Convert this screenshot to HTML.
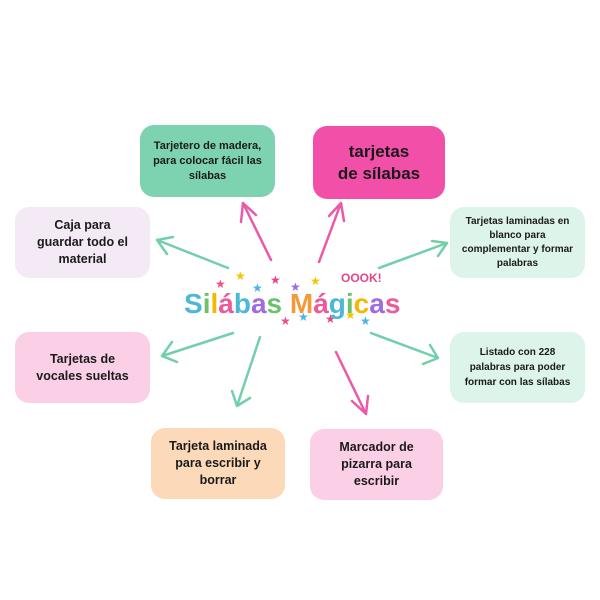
<!DOCTYPE html>
<html><head><meta charset="utf-8"><style>
body{margin:0;width:600px;height:600px;background:#fff;position:relative;overflow:hidden;font-family:"Liberation Sans",sans-serif;}
.b{position:absolute;border-radius:14px;display:flex;align-items:center;justify-content:center;text-align:center;font-weight:bold;color:#1a1a1a;box-sizing:border-box;padding:4px}
svg{position:absolute;left:0;top:0}
</style></head><body>
<div class="b" style="left:140px;top:125px;width:135px;height:72px;background:#7dd3b0;font-size:11px;line-height:15px">Tarjetero de madera,<br>para colocar fácil las<br>sílabas</div>
<div class="b" style="left:313px;top:126px;width:132px;height:73px;background:#f24fa9;font-size:17px;line-height:22px">tarjetas<br>de sílabas</div>
<div class="b" style="left:15px;top:207px;width:135px;height:71px;background:#f4eaf5;font-size:12.5px;line-height:17px">Caja para<br>guardar todo el<br>material</div>
<div class="b" style="left:450px;top:207px;width:135px;height:71px;background:#dcf4e9;font-size:10px;line-height:14px">Tarjetas laminadas en<br>blanco para<br>complementar y formar<br>palabras</div>
<div class="b" style="left:15px;top:332px;width:135px;height:71px;background:#fbcfe6;font-size:12.5px;line-height:17px">Tarjetas de<br>vocales sueltas</div>
<div class="b" style="left:450px;top:332px;width:135px;height:71px;background:#dcf4e9;font-size:10px;line-height:15px">Listado con 228<br>palabras para poder<br>formar con las sílabas</div>
<div class="b" style="left:151px;top:428px;width:134px;height:71px;background:#fcd9b8;font-size:12.5px;line-height:17px">Tarjeta laminada<br>para escribir y<br>borrar</div>
<div class="b" style="left:310px;top:429px;width:133px;height:71px;background:#fbcfe6;font-size:12.5px;line-height:17px">Marcador de<br>pizarra para<br>escribir</div>
<svg width="600" height="600" fill="none" stroke-linecap="round" stroke-width="2.5">
<g stroke="#ea5aa9">
<path d="M271 260L243 203M243 203L241 222M243 203L256 215"/>
<path d="M319 262L341 203M341 203L329 216M341 203L344 221"/>
<path d="M336 352L366 414M366 414L352 401M366 414L368 396"/>
</g>
<g stroke="#72cfa9">
<path d="M228 268L157 240M157 240L167 254M157 240L173 237"/>
<path d="M379 268L447 243M447 243L432 241M447 243L438 256"/>
<path d="M233 333L162 356M162 356L172 342M162 356L177 362"/>
<path d="M260 337L237 406M237 406L232 391M237 406L250 398"/>
<path d="M371 333L438 358M438 358L423 364M438 358L430 345"/>
</g>
<g font-size="12" stroke="none">
<text x="215" y="288" fill="#ef4f8f">★</text><text x="235" y="280" fill="#f5c400">★</text><text x="252" y="292" fill="#4fb3e0">★</text><text x="270" y="284" fill="#e8458b">★</text><text x="290" y="291" fill="#a06be0">★</text><text x="310" y="285" fill="#f5c400">★</text>
<text x="280" y="325" fill="#ef4f8f">★</text><text x="298" y="321" fill="#4fb3e0">★</text><text x="325" y="323" fill="#e8458b">★</text><text x="345" y="319" fill="#f5c400">★</text><text x="360" y="325" fill="#4fb3e0">★</text>
</g>
<text x="184" y="313" font-family="Liberation Sans,sans-serif" font-weight="bold" font-size="28" stroke="none"><tspan fill="#4bb8d8">S</tspan><tspan fill="#6cc26a">i</tspan><tspan fill="#f5b800">l</tspan><tspan fill="#ec5a9c">á</tspan><tspan fill="#4bb8d8">b</tspan><tspan fill="#a06be0">a</tspan><tspan fill="#6cc26a">s </tspan><tspan fill="#f29a3a">M</tspan><tspan fill="#ec5a9c">á</tspan><tspan fill="#4bb8d8">g</tspan><tspan fill="#6cc26a">i</tspan><tspan fill="#f5b800">c</tspan><tspan fill="#a06be0">a</tspan><tspan fill="#ec5a9c">s</tspan></text>
<text x="341" y="282" fill="#e8458b" font-family="Liberation Sans,sans-serif" font-weight="bold" font-size="12" stroke="none">OOOK!</text>
</svg>
</body></html>
